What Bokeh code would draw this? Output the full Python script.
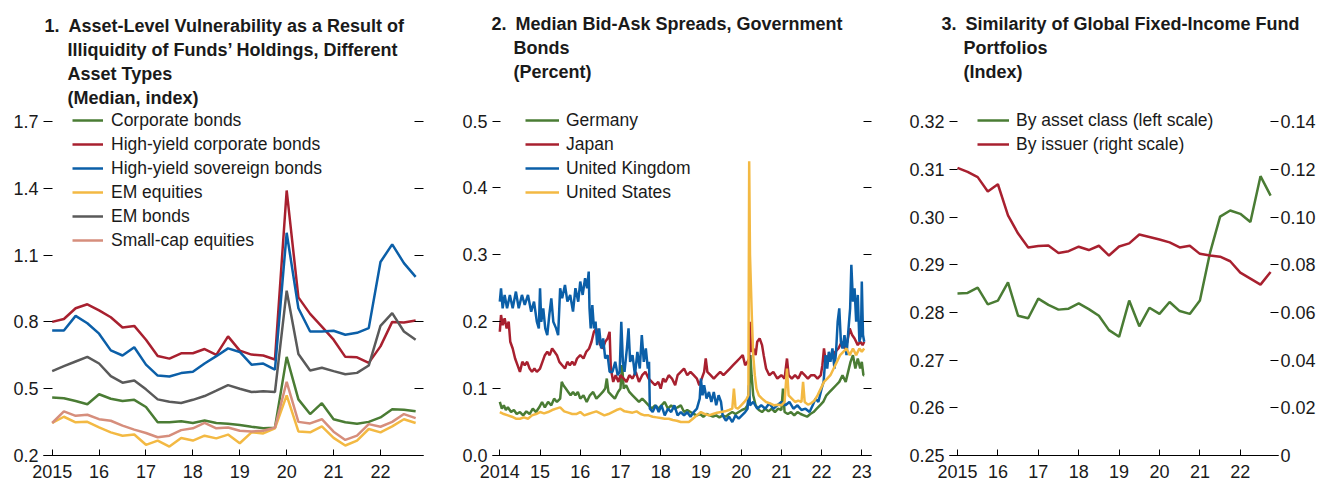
from bokeh.plotting import figure
from bokeh.models import Range1d, LinearAxis, FixedTicker, Legend, LegendItem, Title
from bokeh.layouts import row
from bokeh.embed import file_html
from bokeh.resources import INLINE

# ---------------- data ----------------
quarters = [2015 + 0.25 * i for i in range(32)]

corporate_bonds = [0.46, 0.457, 0.445, 0.43, 0.475, 0.455, 0.445, 0.45, 0.418, 0.349, 0.349, 0.354, 0.346, 0.357, 0.346, 0.343,
                   0.337, 0.329, 0.322, 0.325, 0.643, 0.452, 0.386, 0.435, 0.363, 0.349, 0.343, 0.351, 0.371, 0.408, 0.405, 0.399]
hy_corporate = [0.80, 0.813, 0.861, 0.879, 0.852, 0.821, 0.775, 0.782, 0.72, 0.647, 0.635, 0.659, 0.659, 0.678, 0.652, 0.735,
                0.671, 0.653, 0.649, 0.631, 1.39, 0.91, 0.836, 0.779, 0.72, 0.643, 0.641, 0.616, 0.69, 0.80, 0.797, 0.806]
hy_sovereign = [0.761, 0.761, 0.827, 0.794, 0.747, 0.672, 0.649, 0.686, 0.608, 0.559, 0.555, 0.57, 0.576, 0.613, 0.646, 0.681,
                0.665, 0.608, 0.613, 0.586, 1.20, 0.861, 0.757, 0.757, 0.76, 0.742, 0.751, 0.772, 1.069, 1.148, 1.064, 1.002]
em_equities = [0.346, 0.374, 0.349, 0.351, 0.326, 0.304, 0.289, 0.294, 0.248, 0.267, 0.24, 0.279, 0.267, 0.289, 0.277, 0.294,
               0.255, 0.304, 0.299, 0.322, 0.47, 0.308, 0.304, 0.331, 0.279, 0.245, 0.267, 0.319, 0.304, 0.331, 0.363, 0.346]
em_bonds = [0.579, 0.601, 0.622, 0.643, 0.613, 0.556, 0.527, 0.537, 0.497, 0.452, 0.441, 0.436, 0.45, 0.467, 0.491, 0.516,
            0.5, 0.485, 0.488, 0.485, 0.94, 0.656, 0.582, 0.594, 0.579, 0.565, 0.571, 0.604, 0.782, 0.839, 0.757, 0.72]
small_cap = [0.346, 0.398, 0.378, 0.383, 0.363, 0.356, 0.334, 0.316, 0.301, 0.282, 0.289, 0.314, 0.322, 0.346, 0.322, 0.326,
             0.311, 0.308, 0.311, 0.325, 0.531, 0.351, 0.344, 0.363, 0.307, 0.27, 0.289, 0.341, 0.329, 0.351, 0.386, 0.368]

uk_t = [2014.00, 2014.03, 2014.07, 2014.12, 2014.18, 2014.25, 2014.32, 2014.40, 2014.47, 2014.55, 2014.62, 2014.70, 2014.78, 2014.85,
        2014.92, 2014.97, 2015.00, 2015.03, 2015.08, 2015.13, 2015.18, 2015.23, 2015.28, 2015.33, 2015.40, 2015.45, 2015.50, 2015.55,
        2015.62, 2015.68, 2015.75, 2015.82, 2015.88, 2015.95, 2016.00, 2016.06, 2016.12, 2016.17, 2016.21, 2016.23, 2016.26, 2016.30,
        2016.34, 2016.38, 2016.42, 2016.47, 2016.52, 2016.57, 2016.62, 2016.68, 2016.73, 2016.80, 2016.87, 2016.93, 2016.98, 2017.02,
        2017.06, 2017.10, 2017.16, 2017.20, 2017.24, 2017.30, 2017.36, 2017.42, 2017.48, 2017.53, 2017.58, 2017.63, 2017.68, 2017.71,
        2017.73, 2017.80, 2017.88, 2017.95, 2018.02, 2018.10, 2018.18, 2018.26, 2018.34, 2018.42, 2018.50, 2018.58, 2018.66, 2018.74,
        2018.82, 2018.90, 2018.97, 2019.00, 2019.04, 2019.08, 2019.14, 2019.20, 2019.26, 2019.32, 2019.38, 2019.44, 2019.50, 2019.54,
        2019.62, 2019.70, 2019.78, 2019.86, 2019.94, 2020.02, 2020.10, 2020.16, 2020.19, 2020.22, 2020.30, 2020.40, 2020.50, 2020.60,
        2020.70, 2020.80, 2020.90, 2021.00, 2021.10, 2021.20, 2021.30, 2021.40, 2021.50, 2021.60, 2021.70, 2021.78, 2021.85, 2021.92,
        2022.00, 2022.05, 2022.10, 2022.14, 2022.18, 2022.22, 2022.27, 2022.32, 2022.36, 2022.40, 2022.44, 2022.48, 2022.52, 2022.57,
        2022.62, 2022.67, 2022.71, 2022.74, 2022.78, 2022.82, 2022.86, 2022.90, 2022.94, 2022.98, 2023.00, 2023.03, 2023.06]
uk_v = [0.23, 0.25, 0.22, 0.24, 0.22, 0.24, 0.22, 0.245, 0.22, 0.24, 0.225, 0.24, 0.215, 0.23,
        0.20, 0.19, 0.25, 0.20, 0.22, 0.19, 0.18, 0.21, 0.235, 0.20, 0.19, 0.18, 0.25, 0.235,
        0.255, 0.23, 0.24, 0.215, 0.25, 0.23, 0.26, 0.24, 0.265, 0.25, 0.275, 0.22, 0.19, 0.225,
        0.19, 0.20, 0.165, 0.19, 0.16, 0.175, 0.145, 0.15, 0.125, 0.125, 0.14, 0.12, 0.125, 0.20,
        0.14, 0.125, 0.16, 0.19, 0.14, 0.15, 0.12, 0.155, 0.13, 0.18, 0.14, 0.16, 0.13, 0.14,
        0.07, 0.065, 0.075, 0.065, 0.075, 0.06, 0.07, 0.065, 0.075, 0.06, 0.065, 0.06, 0.065, 0.058,
        0.065, 0.07, 0.085, 0.115, 0.09, 0.105, 0.085, 0.095, 0.08, 0.095, 0.075, 0.09, 0.08, 0.06,
        0.052, 0.058, 0.05, 0.06, 0.055, 0.06, 0.065, 0.07, 0.105, 0.075, 0.08, 0.07, 0.075, 0.07,
        0.078, 0.07, 0.075, 0.08, 0.075, 0.08, 0.07, 0.075, 0.068, 0.07, 0.065, 0.075, 0.085, 0.08,
        0.10, 0.11, 0.15, 0.13, 0.155, 0.14, 0.16, 0.13, 0.155, 0.20, 0.22, 0.17, 0.16, 0.18,
        0.15, 0.19, 0.22, 0.285, 0.23, 0.25, 0.20, 0.24, 0.17, 0.18, 0.26, 0.18, 0.17]

jp_t = [2014.00, 2014.03, 2014.07, 2014.12, 2014.17, 2014.22, 2014.26, 2014.32, 2014.38, 2014.44, 2014.50, 2014.56, 2014.62, 2014.68,
        2014.74, 2014.80, 2014.86, 2014.92, 2015.00, 2015.06, 2015.12, 2015.18, 2015.24, 2015.30, 2015.36, 2015.42, 2015.48, 2015.55,
        2015.62, 2015.68, 2015.74, 2015.80, 2015.86, 2015.92, 2016.00, 2016.08, 2016.15, 2016.22, 2016.28, 2016.34, 2016.40, 2016.45,
        2016.50, 2016.56, 2016.62, 2016.68, 2016.73, 2016.76, 2016.82, 2016.88, 2016.95, 2017.00, 2017.08, 2017.15, 2017.22, 2017.30,
        2017.38, 2017.46, 2017.54, 2017.62, 2017.70, 2017.78, 2017.86, 2017.94, 2018.00, 2018.06, 2018.12, 2018.20, 2018.28, 2018.36,
        2018.42, 2018.50, 2018.58, 2018.66, 2018.74, 2018.82, 2018.90, 2018.96, 2019.02, 2019.08, 2019.12, 2019.16, 2019.24, 2019.32,
        2019.40, 2019.48, 2019.56, 2019.64, 2019.72, 2019.80, 2019.88, 2019.96, 2020.04, 2020.10, 2020.16, 2020.20, 2020.22, 2020.25,
        2020.30, 2020.36, 2020.40, 2020.46, 2020.52, 2020.56, 2020.62, 2020.70, 2020.80, 2020.90, 2021.00, 2021.08, 2021.14, 2021.18,
        2021.26, 2021.34, 2021.42, 2021.50, 2021.58, 2021.66, 2021.74, 2021.82, 2021.90, 2021.98, 2022.02, 2022.06, 2022.10, 2022.18,
        2022.26, 2022.34, 2022.42, 2022.50, 2022.58, 2022.64, 2022.70, 2022.76, 2022.82, 2022.90, 2022.96, 2023.02, 2023.06]
jp_v = [0.185, 0.21, 0.195, 0.205, 0.19, 0.20, 0.17, 0.16, 0.145, 0.135, 0.125, 0.14, 0.135, 0.14,
        0.13, 0.125, 0.13, 0.125, 0.13, 0.14, 0.15, 0.155, 0.15, 0.16, 0.155, 0.15, 0.14, 0.135,
        0.13, 0.14, 0.135, 0.14, 0.135, 0.145, 0.15, 0.145, 0.155, 0.16, 0.17, 0.185, 0.19, 0.175,
        0.165, 0.16, 0.17, 0.175, 0.185, 0.13, 0.11, 0.12, 0.11, 0.12, 0.115, 0.11, 0.12, 0.115,
        0.125, 0.11, 0.12, 0.125, 0.115, 0.11, 0.105, 0.11, 0.10, 0.115, 0.11, 0.12, 0.115, 0.105,
        0.12, 0.125, 0.13, 0.12, 0.125, 0.12, 0.115, 0.105, 0.115, 0.125, 0.145, 0.125, 0.12, 0.115,
        0.12, 0.125, 0.12, 0.125, 0.13, 0.135, 0.14, 0.145, 0.15, 0.135, 0.14, 0.145, 0.20, 0.155,
        0.16, 0.15, 0.17, 0.175, 0.165, 0.15, 0.13, 0.12, 0.125, 0.115, 0.12, 0.115, 0.145, 0.12,
        0.115, 0.12, 0.115, 0.125, 0.12, 0.115, 0.12, 0.12, 0.115, 0.12, 0.135, 0.16, 0.14, 0.15,
        0.145, 0.155, 0.16, 0.17, 0.16, 0.17, 0.19, 0.18, 0.175, 0.165, 0.17, 0.165, 0.17]

de_t = [2014.00, 2014.05, 2014.10, 2014.15, 2014.20, 2014.28, 2014.35, 2014.42, 2014.50, 2014.58, 2014.66, 2014.74, 2014.82, 2014.90,
        2014.98, 2015.05, 2015.12, 2015.20, 2015.28, 2015.35, 2015.42, 2015.50, 2015.54, 2015.58, 2015.64, 2015.70, 2015.76, 2015.82,
        2015.88, 2015.94, 2016.00, 2016.08, 2016.16, 2016.24, 2016.32, 2016.40, 2016.48, 2016.56, 2016.62, 2016.66, 2016.70, 2016.78,
        2016.86, 2016.94, 2017.00, 2017.04, 2017.08, 2017.14, 2017.22, 2017.30, 2017.38, 2017.46, 2017.54, 2017.62, 2017.70, 2017.78,
        2017.86, 2017.94, 2018.02, 2018.10, 2018.18, 2018.26, 2018.34, 2018.42, 2018.50, 2018.58, 2018.66, 2018.74, 2018.82, 2018.90,
        2018.98, 2019.06, 2019.14, 2019.22, 2019.30, 2019.38, 2019.46, 2019.54, 2019.62, 2019.70, 2019.78, 2019.86, 2019.94, 2020.02,
        2020.10, 2020.16, 2020.20, 2020.23, 2020.26, 2020.30, 2020.36, 2020.44, 2020.52, 2020.60, 2020.68, 2020.76, 2020.84, 2020.92,
        2021.00, 2021.04, 2021.08, 2021.16, 2021.24, 2021.32, 2021.40, 2021.48, 2021.56, 2021.64, 2021.72, 2021.80, 2021.88, 2021.96,
        2022.04, 2022.12, 2022.20, 2022.28, 2022.36, 2022.44, 2022.52, 2022.60, 2022.66, 2022.72, 2022.78, 2022.84, 2022.90, 2022.96,
        2023.00, 2023.04, 2023.06]
de_v = [0.08, 0.07, 0.075, 0.068, 0.072, 0.065, 0.068, 0.062, 0.065, 0.06, 0.066, 0.062, 0.07, 0.065,
        0.072, 0.08, 0.072, 0.08, 0.075, 0.085, 0.08, 0.085, 0.11, 0.105, 0.10, 0.095, 0.09, 0.095,
        0.09, 0.095, 0.085, 0.09, 0.08, 0.09, 0.095, 0.085, 0.09, 0.095, 0.10, 0.115, 0.095, 0.09,
        0.085, 0.095, 0.10, 0.135, 0.10, 0.105, 0.095, 0.09, 0.085, 0.08, 0.085, 0.08, 0.075, 0.07,
        0.075, 0.07, 0.075, 0.08, 0.07, 0.075, 0.07, 0.072, 0.075, 0.065, 0.068, 0.065, 0.062, 0.06,
        0.062, 0.058, 0.062, 0.06, 0.058, 0.06, 0.057, 0.06, 0.058, 0.062, 0.065, 0.062, 0.065, 0.068,
        0.07, 0.075, 0.085, 0.15, 0.12, 0.09, 0.075, 0.068, 0.065, 0.07, 0.066, 0.07, 0.065, 0.07,
        0.068, 0.10, 0.065, 0.062, 0.065, 0.06, 0.065, 0.062, 0.06, 0.058, 0.062, 0.065, 0.07, 0.075,
        0.08, 0.09, 0.095, 0.10, 0.105, 0.11, 0.12, 0.11, 0.125, 0.14, 0.15, 0.13, 0.145, 0.13,
        0.14, 0.12, 0.12]

us_t = [2014.00, 2014.10, 2014.20, 2014.30, 2014.40, 2014.50, 2014.60, 2014.70, 2014.80, 2014.90, 2015.00, 2015.10, 2015.20, 2015.30,
        2015.40, 2015.50, 2015.60, 2015.70, 2015.80, 2015.90, 2016.00, 2016.10, 2016.20, 2016.30, 2016.40, 2016.50, 2016.60, 2016.70,
        2016.80, 2016.90, 2017.00, 2017.10, 2017.20, 2017.30, 2017.40, 2017.50, 2017.60, 2017.70, 2017.80, 2017.90, 2018.00, 2018.10,
        2018.20, 2018.30, 2018.40, 2018.50, 2018.60, 2018.70, 2018.80, 2018.90, 2019.00, 2019.10, 2019.20, 2019.30, 2019.40, 2019.50,
        2019.60, 2019.70, 2019.78, 2019.82, 2019.86, 2019.92, 2020.00, 2020.08, 2020.14, 2020.18, 2020.20, 2020.22, 2020.24, 2020.27,
        2020.30, 2020.34, 2020.38, 2020.44, 2020.52, 2020.62, 2020.72, 2020.82, 2020.92, 2021.00, 2021.08, 2021.14, 2021.18, 2021.26,
        2021.34, 2021.42, 2021.50, 2021.54, 2021.58, 2021.66, 2021.74, 2021.82, 2021.90, 2021.98, 2022.06, 2022.14, 2022.22, 2022.30,
        2022.38, 2022.46, 2022.54, 2022.62, 2022.70, 2022.78, 2022.86, 2022.94, 2023.00, 2023.06]
us_v = [0.065, 0.062, 0.06, 0.058, 0.055, 0.055, 0.057, 0.055, 0.06, 0.062, 0.065, 0.063, 0.065, 0.068,
        0.07, 0.072, 0.066, 0.064, 0.062, 0.062, 0.065, 0.06, 0.062, 0.064, 0.066, 0.063, 0.06, 0.062,
        0.065, 0.068, 0.07, 0.066, 0.065, 0.064, 0.066, 0.062, 0.06, 0.06, 0.058, 0.057, 0.056, 0.055,
        0.055, 0.053, 0.052, 0.05, 0.05, 0.05, 0.055, 0.06, 0.065, 0.062, 0.06, 0.062, 0.064, 0.065,
        0.066, 0.068, 0.07, 0.10, 0.072, 0.07, 0.075, 0.08, 0.085, 0.09, 0.44, 0.30, 0.26, 0.20,
        0.15, 0.12, 0.10, 0.09, 0.085, 0.08, 0.078, 0.075, 0.076, 0.075, 0.08, 0.13, 0.09, 0.085,
        0.08, 0.082, 0.08, 0.11, 0.08, 0.076, 0.078, 0.082, 0.09, 0.10, 0.11, 0.115, 0.12, 0.13,
        0.14, 0.15, 0.155, 0.16, 0.15, 0.16, 0.15, 0.16, 0.155, 0.16]

by_asset_class = [0.284, 0.2841, 0.2852, 0.2817, 0.2825, 0.2863, 0.2793, 0.2788, 0.2829, 0.2816, 0.2806, 0.2808, 0.2819, 0.2807,
                  0.2793, 0.2763, 0.2749, 0.2825, 0.2771, 0.281, 0.2797, 0.2822, 0.2803, 0.2797, 0.2825, 0.2925, 0.3001, 0.3014,
                  0.3007, 0.299, 0.3086, 0.3045]
by_issuer = [0.1207, 0.119, 0.1168, 0.1108, 0.1138, 0.1007, 0.0931, 0.0873, 0.0879, 0.0881, 0.085, 0.0857, 0.0876, 0.0862,
             0.088, 0.0839, 0.0877, 0.089, 0.0927, 0.0917, 0.0906, 0.0894, 0.0873, 0.088, 0.0846, 0.0839, 0.0834, 0.0815,
             0.0767, 0.0742, 0.0717, 0.077]

p1_xticks = [2015, 2016, 2017, 2018, 2019, 2020, 2021, 2022]
p1_xlabels = ["2015", "16", "17", "18", "19", "20", "21", "22"]
p1_yticks = [0.2, 0.5, 0.8, 1.1, 1.4, 1.7]
p2_xticks = [2014, 2015, 2016, 2017, 2018, 2019, 2020, 2021, 2022, 2023]
p2_xlabels = ["2014", "15", "16", "17", "18", "19", "20", "21", "22", "23"]
p2_yticks = [0.0, 0.1, 0.2, 0.3, 0.4, 0.5]
p3_yticks = [0.25, 0.26, 0.27, 0.28, 0.29, 0.30, 0.31, 0.32]
p3_ylabels = ["0.25", "0.26", "0.27", "0.28", "0.29", "0.30", "0.31", "0.32"]
p3_rticks = [0.0, 0.02, 0.04, 0.06, 0.08, 0.10, 0.12, 0.14]
p3_rlabels = ["0", "0.02", "0.04", "0.06", "0.08", "0.10", "0.12", "0.14"]

# ---------------- style ----------------
FONT = "Liberation Sans"
FS = "17.5px"     # legend text
TKFS = "18px"     # tick labels
TFS = "18px"      # titles
TXT = "#1a1a1a"
GREEN = "#4a7c34"
RED = "#a8202f"
BLUE = "#0b5fa8"
YELLOW = "#f3b943"
GRAY = "#5a5a5a"
SALMON = "#d68e7c"

H = 485
TOP = 108
BOT = 30
FRAME_H = H - TOP - BOT


def style_axis(ax, tick_in, standoff):
    ax.major_tick_in = tick_in
    ax.major_tick_out = 0
    ax.minor_tick_line_color = None
    ax.major_tick_line_color = "black"
    ax.major_tick_line_width = 1
    ax.major_label_text_font = FONT
    ax.major_label_text_font_size = TKFS
    ax.major_label_text_color = TXT
    ax.major_label_standoff = standoff


def make_fig(width, left, right, xr, yr, xticks, xlabels, yticks, ylabels, tick_len):
    p = figure(width=width, height=H, x_range=Range1d(*xr), y_range=Range1d(*yr),
               output_backend="svg", toolbar_location=None,
               min_border_left=left, min_border_right=right, min_border_top=TOP, min_border_bottom=BOT)
    p.outline_line_color = None
    p.grid.visible = False
    xa = p.xaxis[0]
    style_axis(xa, 6, 9)
    xa.ticker = FixedTicker(ticks=xticks)
    xa.major_label_overrides = {t: l for t, l in zip(xticks, xlabels)}
    xa.axis_line_color = "black"
    xa.axis_line_width = 1
    ya = p.yaxis[0]
    style_axis(ya, tick_len, 5)
    ya.ticker = FixedTicker(ticks=yticks)
    ya.major_label_overrides = {t: l for t, l in zip(yticks, ylabels)}
    ya.axis_line_color = None
    return p


def add_titles(p, lines):
    # lines listed bottom (nearest the plot) to top: (offset, standoff, text)
    for off, so, txt in lines:
        p.add_layout(Title(text=txt, align="left", offset=off, standoff=so, text_font=FONT,
                           text_font_style="bold", text_font_size=TFS, text_color=TXT), "above")


def make_legend(items, loc, gw, standoff):
    return Legend(items=items, location=loc, orientation="vertical",
                  label_text_font=FONT, label_text_font_size=FS, label_text_color=TXT,
                  glyph_width=gw, glyph_height=24, label_height=24, label_standoff=standoff,
                  spacing=0, padding=0, margin=0, border_line_color=None, background_fill_alpha=0)


# ---------- panel 1 ----------
W1, L1, R1 = 440, 43, 17
xr1 = (2014.815, 2014.815 + (W1 - L1 - R1) / 46.9)
yr1 = (0.2, 0.2 + FRAME_H / 222.7)
p1 = make_fig(W1, L1, R1, xr1, yr1, p1_xticks, p1_xlabels, p1_yticks, [f"{v:.1f}" for v in p1_yticks], 9)
ra1 = LinearAxis(ticker=FixedTicker(ticks=p1_yticks), major_label_overrides={t: "" for t in p1_yticks})
style_axis(ra1, 9, 0)
ra1.axis_line_color = None
p1.add_layout(ra1, "right")

series1 = [("Corporate bonds", corporate_bonds, GREEN),
           ("High-yield corporate bonds", hy_corporate, RED),
           ("High-yield sovereign bonds", hy_sovereign, BLUE),
           ("EM equities", em_equities, YELLOW),
           ("EM bonds", em_bonds, GRAY),
           ("Small-cap equities", small_cap, SALMON)]
items1 = []
for name, vals, col in series1:
    r = p1.line(quarters, vals, line_color=col, line_width=2.5)
    items1.append(LegendItem(label=name, renderers=[r]))
p1.add_layout(make_legend(items1, (29, FRAME_H - 6 * 24), 31, 8))
add_titles(p1, [(24, 2, "(Median, index)"), (24, 2, "Asset Types"),
                (24, 2, "Illiquidity of Funds\u2019 Holdings, Different"),
                (1, 2, "1.\u2002Asset-Level Vulnerability as a Result of")])

# ---------- panel 2 ----------
W2, L2, R2 = 440, 52, 9
xr2 = (2013.818, 2013.818 + (W2 - L2 - R2) / 40.22)
yr2 = (0.0, FRAME_H / 669.0)
p2 = make_fig(W2, L2, R2, xr2, yr2, p2_xticks, p2_xlabels, p2_yticks, [f"{v:.1f}" for v in p2_yticks], 8)
ra2 = LinearAxis(ticker=FixedTicker(ticks=p2_yticks), major_label_overrides={t: "" for t in p2_yticks})
style_axis(ra2, 8, 0)
ra2.axis_line_color = None
p2.add_layout(ra2, "right")

r_de = p2.line(de_t, de_v, line_color=GREEN, line_width=2.5)
r_jp = p2.line(jp_t, jp_v, line_color=RED, line_width=2.5)
r_uk = p2.line(uk_t, uk_v, line_color=BLUE, line_width=2.5)
r_us = p2.line(us_t, us_v, line_color=YELLOW, line_width=2.5)
items2 = [LegendItem(label="Germany", renderers=[r_de]), LegendItem(label="Japan", renderers=[r_jp]),
          LegendItem(label="United Kingdom", renderers=[r_uk]), LegendItem(label="United States", renderers=[r_us])]
p2.add_layout(make_legend(items2, (33, FRAME_H - 4 * 24), 34, 7))
add_titles(p2, [(0, 4, " "), (21, 1.5, "(Percent)"), (21, 1.5, "Bonds"),
                (-1, 1.5, "2.\u2002Median Bid-Ask Spreads, Government")])

# ---------- panel 3 ----------
W3, L3, R3 = 439, 69, 41
xr3 = (2014.802, 2014.802 + (W3 - L3 - R3) / 40.4)
yr3 = (0.25, 0.25 + FRAME_H / 4767.0)
p3 = make_fig(W3, L3, R3, xr3, yr3, p1_xticks, p1_xlabels, p3_yticks, p3_ylabels, 8)
p3.extra_y_ranges = {"right": Range1d(0.0, (yr3[1] - 0.25) * 2)}
ra3 = LinearAxis(y_range_name="right", ticker=FixedTicker(ticks=p3_rticks),
                 major_label_overrides={t: l for t, l in zip(p3_rticks, p3_rlabels)})
style_axis(ra3, 8, 2)
ra3.axis_line_color = None
p3.add_layout(ra3, "right")

r_ac = p3.line(quarters, by_asset_class, line_color=GREEN, line_width=2.5)
r_is = p3.line(quarters, by_issuer, line_color=RED, line_width=2.5, y_range_name="right")
items3 = [LegendItem(label="By asset class (left scale)", renderers=[r_ac]),
          LegendItem(label="By issuer (right scale)", renderers=[r_is])]
p3.add_layout(make_legend(items3, (28, FRAME_H - 2 * 24), 32, 7))
add_titles(p3, [(0, 4, " "), (14, 1.5, "(Index)"), (14, 1.5, "Portfolios"),
                (-8, 1.5, "3.\u2002Similarity of Global Fixed-Income Fund")])

layout = row(p1, p2, p3, spacing=0)
open("out.html", "w").write(file_html(layout, INLINE))
